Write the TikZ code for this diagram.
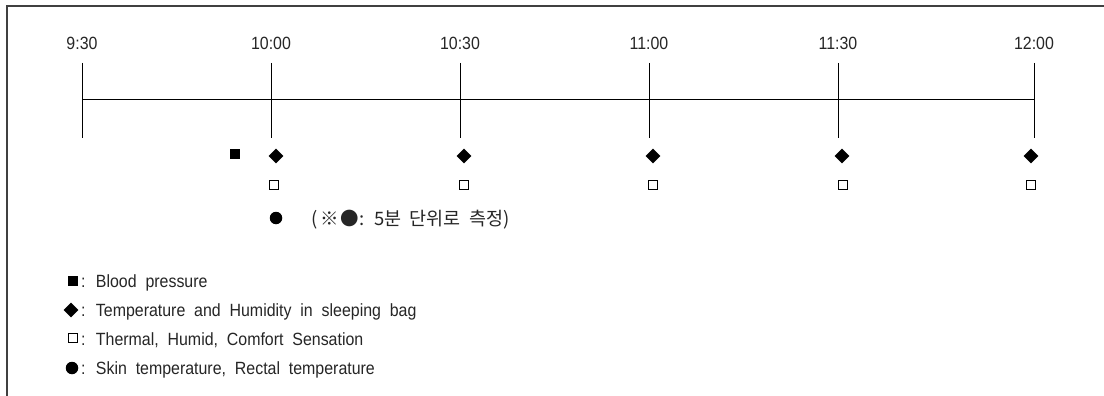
\documentclass[tikz,border=0pt]{standalone}
\usepackage{fontspec}
\setmainfont{Liberation Sans}[FakeStretch=0.9, WordSpace=2]
\newfontfamily\kr{Noto Sans CJK KR}[WordSpace=2]
\usetikzlibrary{shapes.geometric}
\tikzset{
  lbl/.style={font=\fontsize{17.7}{20}\selectfont, inner sep=0pt, text=black!85},
  frameline/.style={line width=1.3pt, draw=black!75},
  axisline/.style={line width=1pt, draw=black},
  dia/.style={diamond, fill=black, minimum width=15pt, minimum height=15pt, inner sep=0pt},
  sqf/.style={rectangle, fill=black, minimum size=9.5pt, inner sep=0pt},
  sqo/.style={rectangle, draw=black, line width=1.3pt, minimum size=9pt, inner sep=0pt},
  dotm/.style={circle, fill=black, minimum size=12.5pt, inner sep=0pt}
}
\begin{document}
\begin{tikzpicture}[x=1pt,y=-1pt]
\useasboundingbox (0,0) rectangle (1104,396);
\fill[white] (0,0) rectangle (1104,396);
% frame (left and top only)
\coordinate (fbl) at (7,396);
\coordinate (ftl) at (7,6);
\coordinate (ftr) at (1104,6);
\draw[frameline] (fbl) -- (ftl) -- (ftr);
% time axis
\foreach \x/\t/\n in {82/9:30/a, 271/10:00/b, 460/10:30/c, 649/11:00/d, 838/11:30/e, 1034/12:00/f}{
  \coordinate (top\n) at (\x,63);
  \coordinate (bot\n) at (\x,138);
  \coordinate (mid\n) at (\x,100);
  \draw[axisline] (top\n) -- (bot\n);
  \node[lbl, anchor=base] (lab\n) at (\x,50) {\t};
}
\draw[axisline] (mida) -- (midf);
% markers
\node[sqf] (bp) at (235,154) {};
\foreach \x/\n in {276/b, 464/c, 653/d, 842/e, 1031/f}{
  \node[dia] (dia\n) at (\x,156) {};
}
\foreach \x/\n in {274/b, 464/c, 653/d, 843/e, 1031/f}{
  \node[sqo] (sqo\n) at (\x,185) {};
}
\node[dotm] (dotb) at (276,218) {};
\node[lbl, anchor=base west, font=\kr\fontsize{18.5}{22}\selectfont] (note) at (311,225) {(\hspace{3pt}※\hspace{2pt}●: 5분 단위로 측정)};
% legend
\node[sqf, minimum size=10pt] (lg1) at (73,281) {};
\node[lbl, anchor=base west] (lt1) at (81,287) {: Blood pressure};
\node[dia] (lg2) at (71,310) {};
\node[lbl, anchor=base west] (lt2) at (81,316) {: Temperature and Humidity in sleeping bag};
\node[sqo] (lg3) at (73,338) {};
\node[lbl, anchor=base west] (lt3) at (81,345) {: Thermal, Humid, Comfort Sensation};
\node[dotm] (lg4) at (72,368) {};
\node[lbl, anchor=base west] (lt4) at (81,374) {: Skin temperature, Rectal temperature};
\end{tikzpicture}
\end{document}
